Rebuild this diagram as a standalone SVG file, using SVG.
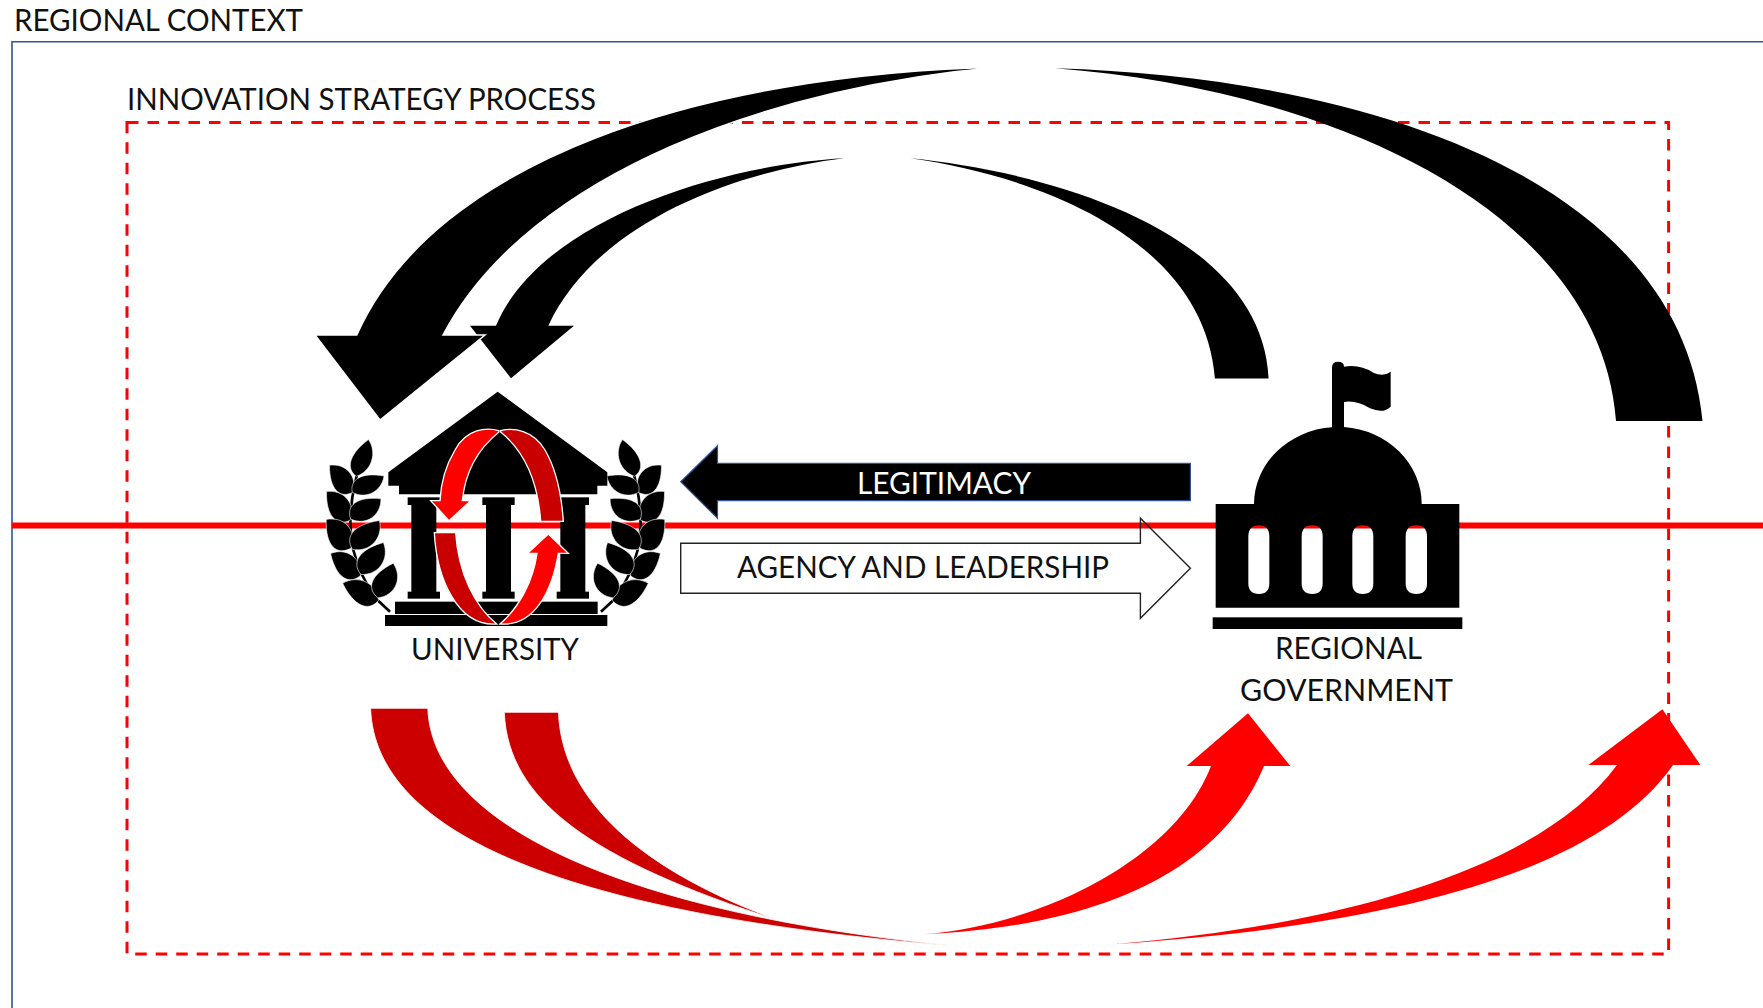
<svg xmlns="http://www.w3.org/2000/svg" xmlns:xlink="http://www.w3.org/1999/xlink" width="1763" height="1008" viewBox="0 0 1763 1008">
<style>
text{font-family:"Lato","Liberation Sans",sans-serif;font-size:30px;fill:#111}
.blk{fill:#000}
.bk2{fill:#000;stroke:#fff;stroke-width:1.5}
.dred{fill:#cc0000;stroke:#fff;stroke-width:.8}
.red{fill:#f00}
.ringd{fill:#c80000;stroke:#fff;stroke-width:4}
.ringr{fill:#f00;stroke:#fff;stroke-width:4}
</style>
<defs>
<path id="leaf" d="M-4 0C8 -42 52 -46 110 0C82 42 24 44 -4 0Z" fill="#000" stroke="#fff" stroke-width="1.6"/>
<g id="laurel">
<path d="M270 905L230 868Q180 800 160 720Q140 630 165 520L172 490" fill="none" stroke="#000" stroke-width="8"/>
<use xlink:href="#leaf" transform="translate(170 495) rotate(-71.6) scale(1.02 .9)"/>
<use xlink:href="#leaf" transform="translate(155 545) rotate(-130) scale(.94 1)"/>
<use xlink:href="#leaf" transform="translate(160 545) rotate(-27) scale(.94 .9)"/>
<use xlink:href="#leaf" transform="translate(148 628) rotate(-129.5) scale(.98 1.05)"/>
<use xlink:href="#leaf" transform="translate(155 625) rotate(-33.8) scale(.96 1)"/>
<use xlink:href="#leaf" transform="translate(150 712) rotate(-130.5) scale(1 1.15)"/>
<use xlink:href="#leaf" transform="translate(160 715) rotate(-46.8) scale(1.04 1.05)"/>
<use xlink:href="#leaf" transform="translate(178 795) rotate(-143.2) scale(.98 1.05)"/>
<use xlink:href="#leaf" transform="translate(185 790) rotate(-54.8) scale(1.03 1.05)"/>
<use xlink:href="#leaf" transform="translate(232 870) rotate(-154.3) scale(1.05 1.05)"/>
<use xlink:href="#leaf" transform="translate(235 860) rotate(-65.8) scale(1 1.05)"/>
</g>
<g id="column">
<rect x="0" y="0" width="97" height="23"/>
<rect x="11" y="20" width="75" height="270"/>
<rect x="0" y="283" width="97" height="21"/>
</g>
</defs>

<g id="regional-context">
<path d="M1763 41.7H12V1008" fill="none" stroke="#2f5597" stroke-width="1.6"/>
<text x="14" y="31" textLength="289" lengthAdjust="spacingAndGlyphs">REGIONAL CONTEXT</text>
</g>
<g id="innovation-strategy-process">
<rect x="127" y="122.5" width="1541.6" height="831.5" fill="none" stroke="#f00" stroke-width="3" stroke-dasharray="11.5 9"/>
<text x="127" y="110" textLength="469" lengthAdjust="spacingAndGlyphs">INNOVATION STRATEGY PROCESS</text>
</g>
<path id="context-line" d="M12 525.5H1763" stroke="#f00" stroke-width="6"/>

<g id="government">
<g transform="translate(1180 340) scale(.33333)">
<path class="blk" fill-rule="evenodd" d="M456 262V82Q456 65 474 65Q492 65 492 80Q540 72 580 98Q610 112 632 95V200Q610 222 570 205Q530 180 492 186V261A252 232 0 0 1 725 492H838V803H107V492H222A252 232 0 0 1 456 262ZM237 556Q205 556 205 590V730Q205 762 237 762Q268 762 268 730V590Q268 556 237 556ZM397 556Q365 556 365 590V730Q365 762 397 762Q428 762 428 730V590Q428 556 397 556ZM548 556Q517 556 517 590V730Q517 762 548 762Q580 762 580 730V590Q580 556 548 556ZM709 556Q677 556 677 590V730Q677 762 709 762Q741 762 741 730V590Q741 556 709 556Z"/>
<rect class="blk" x="98" y="832" width="749" height="35"/>
</g>
<text x="1275" y="659.3" textLength="147" lengthAdjust="spacingAndGlyphs">REGIONAL</text>
<text x="1240" y="701" textLength="213" lengthAdjust="spacingAndGlyphs">GOVERNMENT</text>
</g>

<g id="university">
<g transform="translate(300 310) scale(.33333)">
<use xlink:href="#laurel"/>
<use xlink:href="#laurel" transform="translate(1173 0) scale(-1 1)"/>
<path class="blk" d="M593 245L922 487V527H892V553H297V527H265V487Z"/>
<use xlink:href="#column" transform="translate(323 562)"/>
<use xlink:href="#column" transform="translate(547 562)"/>
<use xlink:href="#column" transform="translate(770 562)"/>
<rect class="blk" x="285" y="875" width="608" height="37"/>
<rect class="blk" x="255" y="915" width="667" height="33"/>
<path class="ringd" d="M602 362C640 352 700 360 735 420C770 480 785 560 790 634H722C715 530 680 430 602 366Z"/>
<path class="ringr" d="M597 362C560 352 500 355 465 420C435 470 422 530 420 572H392L447 632L512 572H487C495 490 530 420 597 366Z"/>
<path class="ringd" d="M403 668H467C475 790 525 890 590 942C470 950 410 800 403 668Z"/>
<path class="ringr" d="M600 942C660 890 700 810 711 730H683L745 672L805 730H775C755 850 700 950 600 942Z"/>
</g>
<text x="411" y="660.3" textLength="168" lengthAdjust="spacingAndGlyphs">UNIVERSITY</text>
</g>

<g id="connectors">
<path class="blk" d="M844 158.3C720 165 540 220 496 325.7H470L511 378.3L574 325.7H548.3C595 225 730 172 844 158.3Z"/>
<path class="bk2" d="M1002 67C700 74 435 160 356.8 335H315L380 420L485 335H443C530 170 780 85 1002 67Z"/>
<path class="blk" d="M910.3 158.3C1050 172 1262 232 1268.6 378.5H1214.9C1205 245 1050 178 910.3 158.3Z"/>
<path class="blk" d="M1055 68.3C1380 78 1680 185 1702.5 421H1616C1600 205 1320 88 1055 68.3Z"/>
<path class="dred" d="M504.3 712.3C508 800 590 860 780 921C640 870 562 800 558.4 712.3Z"/>
<path class="dred" d="M370.6 708.3C375 835 570 915 955 946C640 915 432 830 427.8 708.3Z"/>
<path class="red" d="M924 934.3C1040 925 1175 860 1211 766H1186.7L1248 713.3L1290.3 766H1264C1225 860 1120 925 924 934.3Z"/>
<path class="red" d="M1115 944C1340 925 1540 870 1617 765H1588.4L1662.4 709.3L1700.4 765H1673C1600 870 1400 925 1115 944Z"/>
<g id="legitimacy">
<path d="M680.7 481.7L717.5 445.7V463.3H1190.4V500.7H717.5V518.3Z" fill="#000" stroke="#2f5597" stroke-width="1.2"/>
<text x="857" y="493.5" textLength="174" lengthAdjust="spacingAndGlyphs" style="fill:#fff">LEGITIMACY</text>
</g>
<g id="agency-and-leadership">
<path d="M680.7 543.3H1140.4V518.3L1190.4 568.3L1140.4 618.3V593.3H680.7Z" fill="none" stroke="#222" stroke-width="1.4"/>
<text x="737" y="578.3" textLength="372" lengthAdjust="spacingAndGlyphs">AGENCY AND LEADERSHIP</text>
</g>
</g>
</svg>
